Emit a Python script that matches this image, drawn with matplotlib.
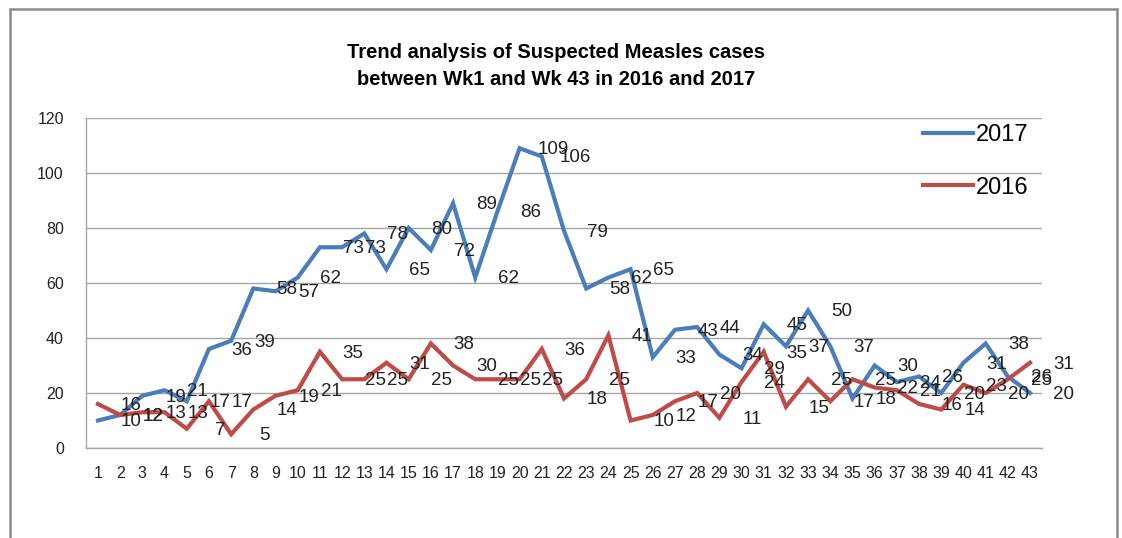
import matplotlib
matplotlib.use("Agg")
import matplotlib.pyplot as plt
from matplotlib.patches import Rectangle

weeks = list(range(1, 44))
cases_2017 = [10, 12, 19, 21, 17, 36, 39, 58, 57, 62,
              73, 73, 78, 65, 80, 72, 89, 62, 86, 109,
              106, 79, 58, 62, 65, 33, 43, 44, 34, 29,
              45, 37, 50, 37, 18, 30, 24, 26, 20, 31,
              38, 26, 20]
cases_2016 = [16, 12, 13, 13, 7, 17, 5, 14, 19, 21,
              35, 25, 25, 31, 25, 38, 30, 25, 25, 25,
              36, 18, 25, 41, 10, 12, 17, 20, 11, 24,
              35, 15, 25, 17, 25, 22, 21, 16, 14, 23,
              20, 25, 31]
y_ticks = [0, 20, 40, 60, 80, 100, 120]

blue = '#4A7EBB'
red = '#BE4B48'
sans = 'Liberation Sans'

fig = plt.figure(figsize=(11.22, 5.38), dpi=100)
ax = fig.add_axes([86 / 1122, 1 - 448 / 538, (1042 - 86) / 1122, (448 - 118) / 538])

ax.plot(weeks, cases_2017, color=blue, lw=3, label='2017', solid_joinstyle='miter')
ax.plot(weeks, cases_2016, color=red, lw=3, label='2016', solid_joinstyle='miter')

# data labels sit to the right of their points, like the original
for w, v in zip(weeks, cases_2017):
    ax.text(w + 1.5, v - 0.5, str(v), ha='center', va='center', fontsize=13.5,
            family=sans, color='#222222')
for w, v in zip(weeks, cases_2016):
    ax.text(w + 1.5, v - 0.5, str(v), ha='center', va='center', fontsize=13.5,
            family=sans, color='#222222')

ax.set_xlim(0.46, 43.54)
ax.set_ylim(0, 120)
ax.set_xticks(weeks)
ax.set_xticklabels([str(w) for w in weeks], family=sans, fontsize=11.5)
ax.set_yticks(y_ticks)
ax.set_yticklabels([str(t) for t in y_ticks], family=sans, fontsize=11.5)
ax.tick_params(axis='both', length=0, colors='#222222')
ax.tick_params(axis='x', pad=13)
ax.tick_params(axis='y', pad=16)
ax.grid(axis='y', color='#A6A6A6', lw=1)
ax.set_axisbelow(True)
for s in ['top', 'right']:
    ax.spines[s].set_visible(False)
for s in ['left', 'bottom']:
    ax.spines[s].set_color('#A6A6A6')
    ax.spines[s].set_linewidth(1)

fig.legend(loc='upper left', bbox_to_anchor=(923 / 1122, 1 - 124 / 538),
           frameon=False, handlelength=2.1, handletextpad=0.15,
           labelspacing=1.3, borderpad=0, borderaxespad=0,
           prop={'family': sans, 'size': 17})

fig.text(556 / 1122, 1 - 66 / 538,
         'Trend analysis of Suspected Measles cases\nbetween Wk1 and Wk 43 in 2016 and 2017',
         ha='center', va='center', fontsize=14.5, fontweight='bold',
         family=sans, linespacing=1.5)

# outer chart border
fig.patches.append(Rectangle((10 / 1122, -0.05), (1117 - 10) / 1122, 1.05 - 9 / 538,
                             transform=fig.transFigure, fill=False,
                             edgecolor='#8C8C8C', lw=1.8))

fig.savefig('out.png', dpi=100)
